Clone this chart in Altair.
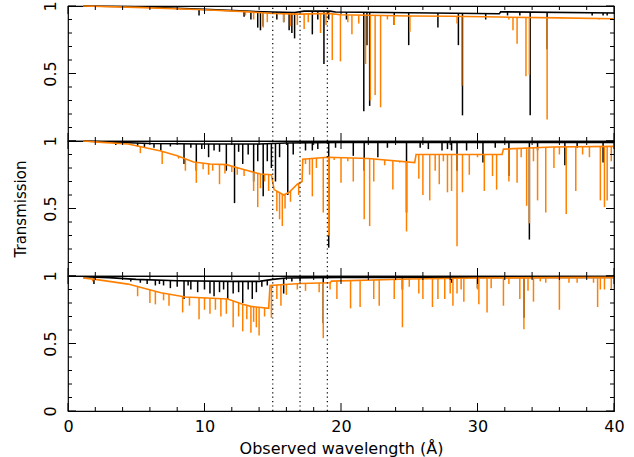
import altair as alt
import numpy as np
import pandas as pd

W, H = 546, 135
BLACK, ORANGE = "#000000", "#ff8000"
FONT = "DejaVu Sans"

X_MAJOR = [0, 10, 20, 30, 40]
X_MINOR = list(range(0, 41, 2))
Y_MAJOR = [0, 0.5, 1]
Y_MINOR = [0, 0.1, 0.2, 0.3, 0.4, 0.5, 0.6, 0.7, 0.8, 0.9, 1.0]
MARKERS = [15, 17, 19]
XTITLE = "Observed wavelength (Å)"
YTITLE = "Transmission"

# ---------------- top panel ----------------
P1_BLACK_CONT = [(1.1, 1.0), (5, 0.995), (10, 0.975), (13, 0.962), (15, 0.955), (16.6, 0.952),
                 (17.3, 0.962), (19.2, 0.962), (19.6, 0.955), (25, 0.95), (31.6, 0.943),
                 (31.7, 0.957), (40, 0.948)]
P1_BLACK_LINES = [(9.6, 0.93), (12.9, 0.92), (13.4, 0.9), (13.9, 0.84), (14.1, 0.82), (14.3, 0.85),
                  (15.3, 0.9), (15.8, 0.88), (16.2, 0.82), (16.4, 0.8), (16.6, 0.76), (17.9, 0.79),
                  (18.3, 0.9), (18.75, 0.57), (19.1, 0.9), (20.4, 0.9), (21.67, 0.22), (21.9, 0.71),
                  (22.1, 0.26), (23.9, 0.86), (24.96, 0.71), (27.1, 0.84), (28.6, 0.71), (28.9, 0.19),
                  (30.6, 0.9), (32.2, 0.93), (33.1, 0.93), (33.86, 0.19), (35.1, 0.68), (38.4, 0.93),
                  (39.2, 0.93), (39.5, 0.93)]
P1_ORANGE_CONT = [(1.1, 1.0), (5, 0.99), (10, 0.972), (13, 0.958), (15, 0.945), (17, 0.94),
                  (19, 0.945), (20, 0.935), (25, 0.926), (28, 0.924), (31.6, 0.918), (36, 0.912),
                  (40, 0.905)]
P1_ORANGE_LINES = [(13.0, 0.93), (13.6, 0.9), (14.3, 0.84), (14.6, 0.88), (15.8, 0.88), (16.3, 0.85),
                   (16.8, 0.86), (17.3, 0.83), (17.6, 0.88), (18.5, 0.8), (18.9, 0.86), (19.36, 0.6),
                   (19.96, 0.59), (20.5, 0.88), (20.8, 0.79), (21.3, 0.87), (21.8, 0.57), (22.15, 0.3),
                   (22.5, 0.34), (22.9, 0.25), (23.4, 0.9), (23.9, 0.86), (25.05, 0.81), (28.5, 0.87),
                   (28.85, 0.41), (32.3, 0.9), (32.6, 0.82), (32.9, 0.72), (33.55, 0.48), (33.8, 0.49),
                   (35.1, 0.16), (36.2, 0.91), (38.9, 0.9)]

# ---------------- middle panel ----------------
P2_BLACK_CONT = [(1.1, 1.0), (3, 0.993), (6, 0.982), (10, 0.978), (14, 0.978), (16, 0.985),
                 (20, 0.99), (40, 0.99)]
P2_BLACK_LINES = [(3.5, 0.97), (5.1, 0.96), (5.6, 0.95), (6.3, 0.95), (6.8, 0.93), (7.5, 0.96),
                  (8.5, 0.83), (9.0, 0.95), (9.4, 0.78), (9.8, 0.94), (10.3, 0.88), (10.7, 0.93),
                  (11.1, 0.92), (11.6, 0.78), (12.2, 0.54), (12.5, 0.92), (12.8, 0.83), (13.2, 0.9),
                  (13.6, 0.70), (13.9, 0.85), (14.3, 0.59), (14.6, 0.85), (14.9, 0.8), (15.2, 0.70),
                  (15.5, 0.88), (16.1, 0.6), (16.5, 0.9), (17.4, 0.93), (17.9, 0.93), (18.3, 0.94),
                  (19.1, 0.21), (19.6, 0.95), (20.9, 0.89), (21.7, 0.78), (22.7, 0.88), (23.4, 0.95),
                  (24.8, 0.47), (25.8, 0.95), (26.4, 0.94), (27.4, 0.93), (27.8, 0.94), (28.1, 0.93),
                  (28.5, 0.78), (29.2, 0.93), (30.4, 0.84), (31.3, 0.95), (32.3, 0.74), (33.8, 0.27),
                  (34.4, 0.93), (36.4, 0.82), (37.3, 0.95), (39.2, 0.84)]
P2_ORANGE_CONT = [(1.1, 1.0), (2.5, 0.99), (4.4, 0.978), (6.8, 0.926), (8.0, 0.89), (9.2, 0.845),
                  (10.4, 0.83), (11.6, 0.825), (12.8, 0.79), (14.1, 0.755), (14.9, 0.75), (15.1, 0.64),
                  (15.8, 0.6), (16.2, 0.62), (16.8, 0.68), (17.15, 0.7), (17.2, 0.865), (19, 0.88),
                  (22, 0.87), (25.4, 0.84), (25.5, 0.9), (31.8, 0.9), (31.9, 0.94), (35.5, 0.955),
                  (40, 0.96)]
P2_ORANGE_LINES = [(5.3, 0.91), (6.9, 0.83), (8.1, 0.87), (8.6, 0.78), (9.4, 0.69), (9.9, 0.79),
                   (10.3, 0.75), (10.6, 0.78), (11.1, 0.68), (11.5, 0.76), (12.0, 0.77), (12.4, 0.75),
                   (12.9, 0.74), (13.6, 0.63), (13.9, 0.51), (14.1, 0.65), (14.4, 0.7), (14.7, 0.63),
                   (15.3, 0.48), (15.5, 0.42), (15.7, 0.37), (15.9, 0.5), (16.3, 0.55), (16.9, 0.6),
                   (17.4, 0.83), (17.7, 0.75), (17.9, 0.59), (18.2, 0.8), (18.7, 0.47), (19.1, 0.3),
                   (19.5, 0.86), (20.0, 0.69), (20.5, 0.85), (20.9, 0.7), (21.7, 0.42), (22.1, 0.37),
                   (22.4, 0.7), (23.2, 0.82), (23.8, 0.64), (24.3, 0.84), (24.8, 0.33), (25.7, 0.72),
                   (26.0, 0.6), (26.5, 0.56), (26.9, 0.78), (27.2, 0.68), (27.5, 0.85), (27.8, 0.62),
                   (28.1, 0.63), (28.5, 0.22), (28.9, 0.62), (29.4, 0.75), (30.0, 0.88), (30.5, 0.63),
                   (31.1, 0.74), (31.4, 0.64), (32.3, 0.70), (32.9, 0.69), (33.2, 0.88), (33.6, 0.52),
                   (33.8, 0.39), (34.1, 0.85), (34.4, 0.56), (35.0, 0.47), (35.6, 0.80), (36.0, 0.9),
                   (36.5, 0.46), (37.2, 0.63), (37.7, 0.9), (38.2, 0.88), (39.0, 0.56), (39.3, 0.51),
                   (39.5, 0.56), (39.8, 0.85)]

# ---------------- bottom panel ----------------
P3_BLACK_CONT = [(1.1, 0.995), (3, 0.988), (5, 0.975), (8, 0.965), (12, 0.96), (14, 0.96),
                 (15, 0.975), (16, 0.985), (20, 0.99), (40, 0.99)]
P3_BLACK_LINES = [(1.9, 0.94), (4.6, 0.96), (5.3, 0.95), (5.8, 0.94), (6.4, 0.93), (6.7, 0.94),
                  (7.0, 0.93), (7.5, 0.91), (8.0, 0.92), (8.5, 0.83), (8.8, 0.93), (9.0, 0.9),
                  (9.5, 0.88), (10.0, 0.9), (10.4, 0.87), (10.7, 0.85), (11.1, 0.88), (11.4, 0.9),
                  (11.7, 0.83), (12.1, 0.87), (12.5, 0.88), (12.8, 0.80), (13.2, 0.9), (13.5, 0.83),
                  (13.8, 0.88), (14.2, 0.92), (14.6, 0.93), (15.8, 0.87), (16.4, 0.96), (17.0, 0.96),
                  (18.7, 0.65), (24.5, 0.9), (28.1, 0.95), (30.0, 0.91), (33.4, 0.69)]
P3_ORANGE_CONT = [(1.1, 0.985), (2, 0.975), (4.4, 0.94), (6.8, 0.876), (8.6, 0.845), (11.7, 0.83),
                  (12.8, 0.79), (13.4, 0.775), (14.7, 0.76), (14.8, 0.93), (17, 0.945), (19.2, 0.95),
                  (19.3, 0.962), (25, 0.978), (30, 0.985), (40, 0.99)]
P3_ORANGE_LINES = [(1.8, 0.96), (5.1, 0.85), (6.0, 0.8), (6.4, 0.79), (7.0, 0.82), (7.4, 0.78),
                   (8.4, 0.73), (8.9, 0.78), (9.6, 0.68), (10.0, 0.75), (10.4, 0.72), (10.8, 0.75),
                   (11.2, 0.7), (11.6, 0.72), (12.1, 0.62), (12.5, 0.7), (12.8, 0.59), (13.1, 0.68),
                   (13.4, 0.58), (13.6, 0.66), (13.8, 0.62), (14.0, 0.56), (14.4, 0.7), (14.9, 0.69),
                   (15.3, 0.83), (15.6, 0.78), (16.0, 0.86), (16.8, 0.9), (17.4, 0.89), (18.4, 0.88),
                   (18.7, 0.54), (19.2, 0.9), (19.7, 0.83), (20.7, 0.76), (21.4, 0.77), (22.4, 0.83),
                   (22.8, 0.78), (23.9, 0.83), (24.5, 0.62), (25.0, 0.92), (25.7, 0.87), (26.0, 0.83),
                   (26.7, 0.77), (27.1, 0.83), (27.6, 0.83), (28.0, 0.87), (28.2, 0.78), (28.5, 0.87),
                   (28.8, 0.9), (29.0, 0.81), (30.0, 0.9), (30.1, 0.79), (30.7, 0.73), (31.0, 0.91),
                   (31.9, 0.78), (32.3, 0.94), (33.1, 0.83), (33.4, 0.605), (33.7, 0.89), (34.1, 0.81),
                   (34.6, 0.96), (35.0, 0.95), (36.0, 0.75), (36.7, 0.95), (37.3, 0.95), (38.5, 0.95),
                   (38.8, 0.77), (39.0, 0.9), (39.3, 0.9), (39.8, 0.9)]

xs = alt.Scale(domain=[0, 40], nice=False, zero=False)
ys = alt.Scale(domain=[0, 1], nice=False, zero=False)

# inward tick lengths (pixels), converted to data units through the panel size
MAJ_PX, MIN_PX = 8, 4


def tick_table():
    rows = []
    for v in X_MINOR:
        ly = (MAJ_PX if v in X_MAJOR else MIN_PX) / H
        rows.append({"x": v, "x2": v, "y": 1.0, "y2": 1.0 - ly})
        rows.append({"x": v, "x2": v, "y": 0.0, "y2": ly})
    for v in Y_MINOR:
        lx = (MAJ_PX if v in Y_MAJOR else MIN_PX) / W * 40
        rows.append({"x": 0.0, "x2": lx, "y": v, "y2": v})
        rows.append({"x": 40.0, "x2": 40.0 - lx, "y": v, "y2": v})
    return pd.DataFrame(rows)


def cont_df(pairs):
    return pd.DataFrame(pairs, columns=["lam", "T"])


def line_df(pairs, cont):
    d = pd.DataFrame(pairs, columns=["lam", "lo"])
    c = np.array(cont)
    d["hi"] = np.interp(d["lam"].to_numpy(), c[:, 0], c[:, 1])
    return d


def panel(bc, bl, oc, ol, bottom, ytitle):
    if bottom:
        xaxis = alt.Axis(orient="bottom", values=X_MAJOR, ticks=False, domain=False, grid=False,
                         labelFontSize=16, labelPadding=7, labelFlush=False, labelOverlap=False,
                         title=XTITLE, titleFontSize=16, titlePadding=6)
        yexpr = "datum.value == 0 ? '0' : (datum.value == 1 ? '1' : '0.5')"
    else:
        xaxis = None
        yexpr = "datum.value == 0 ? '' : (datum.value == 1 ? '1' : '0.5')"
    yaxis = alt.Axis(orient="left", values=Y_MAJOR, ticks=False, domain=False, grid=False,
                     labelAngle=270, labelAlign="center", labelBaseline="alphabetic",
                     labelPadding=13, labelFontSize=16, labelFlush=False, labelOverlap=False,
                     labelExpr=yexpr, title=YTITLE if ytitle else "", titleFontSize=15,
                     titlePadding=14)

    def X(f):
        return alt.X(f, scale=xs, axis=xaxis)

    def Y(f):
        return alt.Y(f, scale=ys, axis=yaxis)

    a = alt.Chart(cont_df(bc)).mark_line(color=BLACK, strokeWidth=1.6).encode(
        x=X("lam:Q"), y=Y("T:Q"))
    b = alt.Chart(line_df(bl, bc)).mark_rule(color=BLACK, strokeWidth=1.5).encode(
        x=X("lam:Q"), y=Y("lo:Q"), y2=alt.Y2("hi:Q"))
    c = alt.Chart(cont_df(oc)).mark_line(color=ORANGE, strokeWidth=1.6).encode(
        x=X("lam:Q"), y=Y("T:Q"))
    d = alt.Chart(line_df(ol, oc)).mark_rule(color=ORANGE, strokeWidth=1.5).encode(
        x=X("lam:Q"), y=Y("lo:Q"), y2=alt.Y2("hi:Q"))

    mk = pd.DataFrame({"lam": MARKERS, "y0": [0] * len(MARKERS), "y1": [1] * len(MARKERS)})
    e = alt.Chart(mk).mark_rule(color=BLACK, strokeWidth=1.2, strokeDash=[1.2, 3.2]).encode(
        x=X("lam:Q"), y=Y("y0:Q"), y2=alt.Y2("y1:Q"))

    f = alt.Chart(tick_table()).mark_rule(color=BLACK, strokeWidth=1).encode(
        x=X("x:Q"), x2=alt.X2("x2:Q"), y=Y("y:Q"), y2=alt.Y2("y2:Q"))

    return alt.layer(a, b, c, d, e, f).properties(width=W, height=H)


top = panel(P1_BLACK_CONT, P1_BLACK_LINES, P1_ORANGE_CONT, P1_ORANGE_LINES, False, False)
mid = panel(P2_BLACK_CONT, P2_BLACK_LINES, P2_ORANGE_CONT, P2_ORANGE_LINES, False, True)
bot = panel(P3_BLACK_CONT, P3_BLACK_LINES, P3_ORANGE_CONT, P3_ORANGE_LINES, True, False)

chart = alt.vconcat(top, mid, bot, spacing=0, bounds="flush").properties(
    padding={"left": 12, "top": 0, "right": 5, "bottom": 5},
    background="white",
).configure_view(stroke="black", strokeWidth=1.2).configure_axis(
    labelFont=FONT, titleFont=FONT, labelColor="black", titleColor="black",
    titleFontWeight="normal")

chart.save("out.html", embed_options={"renderer": "svg", "actions": False})
